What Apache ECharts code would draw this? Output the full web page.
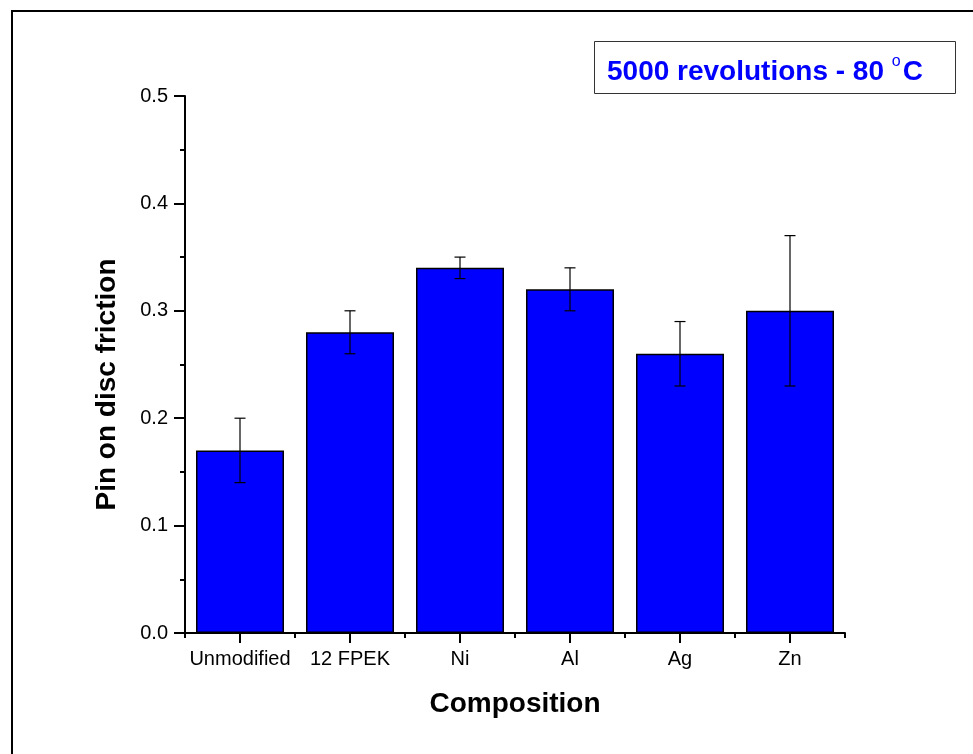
<!DOCTYPE html>
<html>
<head>
<meta charset="utf-8">
<script src="https://cdn.jsdelivr.net/npm/echarts@6/dist/echarts.min.js"></script>
<style>
html,body{margin:0;padding:0;background:#fff;}
#chart{width:973px;height:754px;}
</style>
</head>
<body>
<div id="chart"></div>
<script>
var categories = ['Unmodified', '12 FPEK', 'Ni', 'Al', 'Ag', 'Zn'];
var friction = [0.17, 0.28, 0.34, 0.32, 0.26, 0.30];
var errLow = [0.14, 0.26, 0.33, 0.30, 0.23, 0.23];
var errHigh = [0.20, 0.30, 0.35, 0.34, 0.29, 0.37];
var yTicks = [0, 0.1, 0.2, 0.3, 0.4, 0.5];

var FONT = '"Liberation Sans", Arial, sans-serif';
var chart = echarts.init(document.getElementById('chart'), null, {renderer: 'canvas'});

var errData = categories.map(function (c, i) { return [i, errLow[i], errHigh[i]]; });

var option = {
  animation: false,
  backgroundColor: '#fff',
  grid: {left: 185, right: 128, top: 96, bottom: 121, containLabel: false},
  xAxis: [{
    type: 'category',
    data: categories,
    position: 'bottom',
    name: 'Composition',
    nameLocation: 'middle',
    nameGap: 57,
    nameTextStyle: {fontFamily: FONT, fontSize: 28, fontWeight: 'bold', color: '#000'},
    axisLine: {show: true, lineStyle: {color: '#000', width: 2}},
    axisTick: {show: true, alignWithLabel: true, interval: 0, length: 10, lineStyle: {color: '#000', width: 2}},
    axisLabel: {fontFamily: FONT, fontSize: 20, color: '#000', margin: 16, interval: 0},
    splitLine: {show: false}
  }, {
    type: 'category',
    data: categories,
    position: 'bottom',
    axisLine: {show: false},
    axisTick: {show: true, interval: 0, length: 5, lineStyle: {color: '#000', width: 2}},
    axisLabel: {show: false},
    splitLine: {show: false}
  }],
  yAxis: {
    type: 'value',
    min: 0, max: 0.5, interval: 0.1,
    name: 'Pin on disc friction',
    nameLocation: 'middle',
    nameGap: 64,
    nameTextStyle: {fontFamily: FONT, fontSize: 28, fontWeight: 'bold', color: '#000', padding: [0, 40, 0, 0]},
    axisLine: {show: true, lineStyle: {color: '#000', width: 2}},
    axisTick: {show: true, length: 11, lineStyle: {color: '#000', width: 2}},
    minorTick: {show: true, splitNumber: 2, length: 5, lineStyle: {color: '#000', width: 2}},
    axisLabel: {fontFamily: FONT, fontSize: 20, color: '#000', margin: 17,
      formatter: function (v) { return v.toFixed(1); }},
    splitLine: {show: false}
  },
  series: [{
    type: 'bar',
    data: friction,
    barCategoryGap: '20%',
    itemStyle: {color: '#0000ff', borderColor: '#000', borderWidth: 1.5},
    z: 2
  }, {
    type: 'custom',
    data: errData,
    z: 5,
    renderItem: function (params, api) {
      var x = api.value(0);
      var lo = api.coord([x, api.value(1)]);
      var hi = api.coord([x, api.value(2)]);
      var hw = 5.5;
      var st = {stroke: '#000', lineWidth: 1.2};
      return {
        type: 'group',
        children: [
          {type: 'line', shape: {x1: lo[0], y1: lo[1], x2: hi[0], y2: hi[1]}, style: st},
          {type: 'line', shape: {x1: lo[0] - hw, y1: lo[1], x2: lo[0] + hw, y2: lo[1]}, style: st},
          {type: 'line', shape: {x1: hi[0] - hw, y1: hi[1], x2: hi[0] + hw, y2: hi[1]}, style: st}
        ]
      };
    }
  }],
  graphic: [
    {type: 'polyline', shape: {points: [[12, 760], [12, 11], [980, 11]]},
      style: {stroke: '#000', lineWidth: 2, fill: null}, z: 10},
    {type: 'rect', shape: {x: 594.5, y: 41.5, width: 361, height: 52},
      style: {stroke: '#333', lineWidth: 1, fill: '#fff'}, z: 10},
    {type: 'text', left: 607, top: 54, z: 11,
      style: {
        text: '{m|5000 revolutions - 80 }{s|o}{m|C}',
        rich: {
          m: {fontFamily: FONT, fontSize: 28, fontWeight: 'bold', fill: '#0000ff', verticalAlign: 'bottom', lineHeight: 32},
          s: {fontFamily: FONT, fontSize: 16, fill: '#0000ff', verticalAlign: 'top', lineHeight: 32, padding: [0, 2, 14, 0]}
        }
      }
    }
  ]
};
chart.setOption(option);
</script>
</body>
</html>
